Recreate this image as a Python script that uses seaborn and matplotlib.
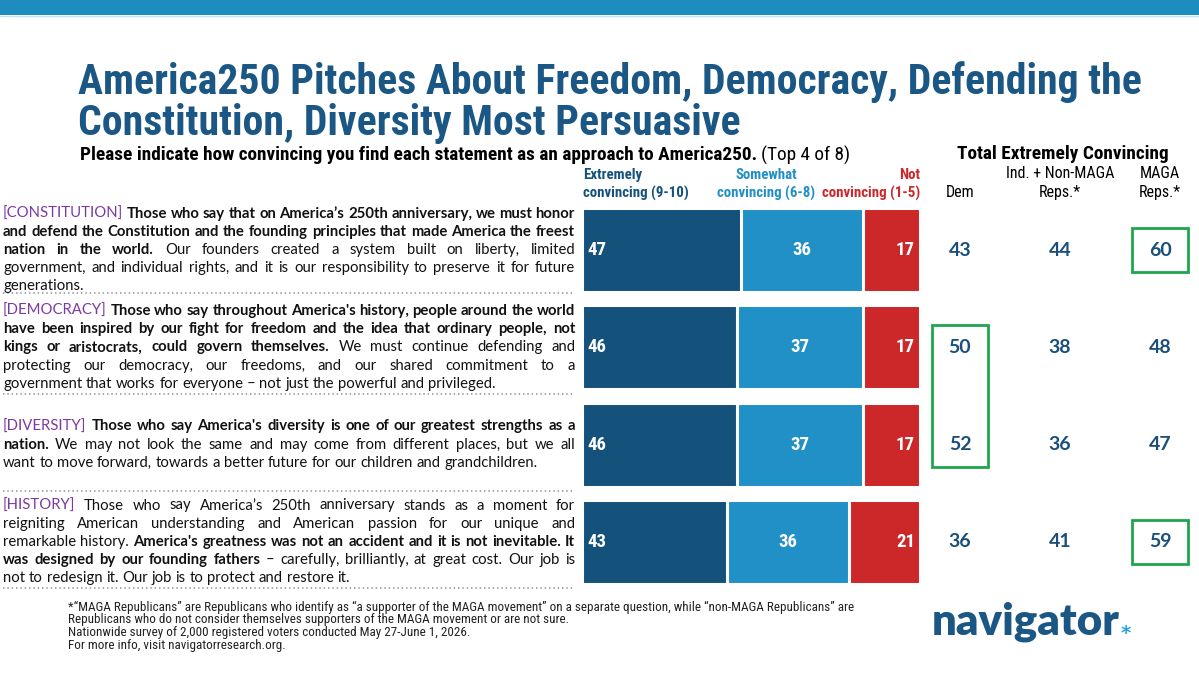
import numpy as np
import pandas as pd
import matplotlib
matplotlib.use("Agg")
import matplotlib.pyplot as plt
import seaborn as sns
from matplotlib import font_manager
from matplotlib.patches import Rectangle
from matplotlib.lines import Line2D
from matplotlib.transforms import blended_transform_factory

# ---------------- DATA ----------------
statements = ["CONSTITUTION", "DEMOCRACY", "DIVERSITY", "HISTORY"]
extremely = [47, 46, 46, 43]
somewhat = [36, 37, 37, 36]
not_conv = [17, 17, 17, 21]
legend_labels = ["Extremely\nconvincing (9-10)", "Somewhat\nconvincing (6-8)", "Not\nconvincing (1-5)"]
group_names = ["Dem", "Ind. + Non-MAGA\nReps.*", "MAGA\nReps.*"]
dem_vals = [43, 50, 52, 36]
ind_vals = [44, 38, 36, 41]
maga_vals = [60, 48, 47, 59]
# (group index, first row, last row)
highlights = [(2, 0, 0), (0, 1, 2), (2, 3, 3)]

title_lines = ["America250 Pitches About Freedom, Democracy, Defending the",
               "Constitution, Diversity Most Persuasive"]
subtitle_bold = "Please indicate how convincing you find each statement as an approach to America250."
subtitle_reg = "(Top 4 of 8)"
right_header = "Total Extremely Convincing"

paragraphs = [
    [[("p", "[CONSTITUTION]"), ("b", "Those who say that on America’s 250th anniversary, we must honor")],
     [("b", "and defend the Constitution and the founding principles that made America the freest")],
     [("b", "nation in the world."), ("r", "Our founders created a system built on liberty, limited")],
     [("r", "government, and individual rights, and it is our responsibility to preserve it for future")],
     [("r", "generations.")]],
    [[("p", "[DEMOCRACY]"), ("b", "Those who say throughout America's history, people around the world")],
     [("b", "have been inspired by our fight for freedom and the idea that ordinary people, not")],
     [("b", "kings or aristocrats, could govern themselves."), ("r", "We must continue defending and")],
     [("r", "protecting our democracy, our freedoms, and our shared commitment to a")],
     [("r", "government that works for everyone – not just the powerful and privileged.")]],
    [[("p", "[DIVERSITY]"), ("b", "Those who say America's diversity is one of our greatest strengths as a")],
     [("b", "nation."), ("r", "We may not look the same and may come from different places, but we all")],
     [("r", "want to move forward, towards a better future for our children and grandchildren.")]],
    [[("p", "[HISTORY]"), ("r", "Those who say America’s 250th anniversary stands as a moment for")],
     [("r", "reigniting American understanding and American passion for our unique and")],
     [("r", "remarkable history."), ("b", "America's greatness was not an accident and it is not inevitable. It")],
     [("b", "was designed by our founding fathers"), ("r", "– carefully, brilliantly, at great cost. Our job is")],
     [("r", "not to redesign it. Our job is to protect and restore it.")]],
]

footnote_lines = [
    "*“MAGA Republicans” are Republicans who identify as “a supporter of the MAGA movement” on a separate question, while “non-MAGA Republicans” are",
    "Republicans who do not consider themselves supporters of the MAGA movement or are not sure.",
    "Nationwide survey of 2,000 registered voters conducted May 27-June 1, 2026.",
    "For more info, visit navigatorresearch.org.",
]

# ---------------- STYLE ----------------
DARK = "#14527c"
LIGHT = "#2190c6"
RED = "#cc2729"
TITLE_C = "#1b5784"
NUM_C = "#1b4f7a"
PURPLE = "#7b3aa0"
GREEN = "#1fa64d"
BAND = "#1f8cbf"

sns.set_theme(style="white")
avail = {f.name for f in font_manager.fontManager.ttflist}


def pick(*names):
    for n in names:
        if n in avail:
            return n
    return "DejaVu Sans"


COND = pick("Roboto Condensed", "Liberation Sans Narrow", "Open Sans Condensed",
            "Noto Sans Condensed", "DejaVu Sans Condensed", "DejaVu Sans")
BODY = pick("Lato", "Open Sans", "DejaVu Sans")
LOGO = pick("Lato", "Inter", "DejaVu Sans")
plt.rcParams["font.family"] = [BODY, "DejaVu Sans"]

W, H = 1199, 674
fig = plt.figure(figsize=(W / 100, H / 100), dpi=100)
fig.patch.set_facecolor("white")
renderer = fig.canvas.get_renderer()


def fx(x):
    return x / W


def fy(y):
    return 1 - y / H


def width_of(t):
    return t.get_window_extent(renderer).width


def fit_text(x, y, s, target_w, base=10.0, max_size=None, **kw):
    t = fig.text(fx(x), fy(y), s, fontsize=base, **kw)
    w = width_of(t)
    size = base * target_w / w
    if max_size is not None:
        size = min(size, max_size)
    t.set_fontsize(size)
    return t


# top band
fig.add_artist(Rectangle((0, fy(15)), 1, 15 / H, transform=fig.transFigure,
                         facecolor=BAND, edgecolor="none"))
fig.add_artist(Line2D([0, 1], [fy(16), fy(16)], transform=fig.transFigure,
                      color="#bfe3f3", lw=1))

# title
t1 = fit_text(78, 82, title_lines[0], 1062, family=COND, weight="bold",
              color=TITLE_C, va="center", ha="left")
fig.text(fx(78), fy(124), title_lines[1], fontsize=t1.get_fontsize(), family=COND,
         weight="bold", color=TITLE_C, va="center", ha="left")

# subtitle
sb = fit_text(80, 155, subtitle_bold, 677, family=COND, weight="bold",
              color="black", va="center", ha="left")
fig.text(fx(80 + width_of(sb) + 4), fy(155), subtitle_reg, fontsize=sb.get_fontsize(),
         family=COND, color="black", va="center", ha="left")

# right header
fit_text(1063, 154, right_header, 211, family=COND, weight="bold", color="black",
         va="center", ha="center")

# ---------------- BARS ----------------
row_top, row_bottom = 201.4, 590.6
ax = fig.add_axes([fx(582), fy(row_bottom), 338 / W, (row_bottom - row_top) / H])
df = pd.DataFrame({"statement": statements, "ext": extremely, "som": somewhat, "not": not_conv})
df["c2"] = df["ext"] + df["som"]
df["c3"] = df["c2"] + df["not"]
for col, c in [("c3", RED), ("c2", LIGHT), ("ext", DARK)]:
    sns.barplot(data=df, x=col, y="statement", orient="h", color=c, saturation=1,
                width=0.865, edgecolor="white", linewidth=2.2, ax=ax)
ax.set_xlim(0, 100)
ax.set_ylim(3.5, -0.5)
ax.axis("off")

for i, r in df.iterrows():
    kw = dict(color="white", weight="bold", family=COND, fontsize=13.5, va="center")
    ax.text(1.5, i, f"{r['ext']}", ha="left", **kw)
    ax.text(r["ext"] + r["som"] / 2, i, f"{r['som']}", ha="center", **kw)
    ax.text(r["c3"] - 1.5, i, f"{r['not']}", ha="right", **kw)

# legend labels above bars
leg_size = 10.7
leg_specs = [(583, "left", DARK), (766, "center", LIGHT), (920, "right", RED)]
for (x, ha, c), lab in zip(leg_specs, legend_labels):
    l1, l2 = lab.split("\n")
    fig.text(fx(x), fy(175), l1, fontsize=leg_size, family=COND, weight="bold",
             color=c, ha=ha, va="center")
    fig.text(fx(x), fy(193), l2, fontsize=leg_size, family=COND, weight="bold",
             color=c, ha=ha, va="center")

# ---------------- RIGHT COLUMNS ----------------
ax2 = fig.add_axes([fx(910), fy(row_bottom), 300 / W, (row_bottom - row_top) / H])
ax2.set_xlim(-0.5, 2.5)
ax2.set_ylim(3.5, -0.5)
ax2.axis("off")
groups = [dem_vals, ind_vals, maga_vals]
for gi, vals in enumerate(groups):
    for ri, v in enumerate(vals):
        ax2.text(gi, ri, str(v), ha="center", va="center", color=NUM_C,
                 fontsize=14, weight="bold", family=BODY)
for gi, r0, r1 in highlights:
    ax2.add_patch(Rectangle((gi - 0.28, r0 - 0.23), 0.56, (r1 - r0) + 0.46,
                            fill=False, edgecolor=GREEN, linewidth=2))

# header size: fit the widest header line to its width in the reference
probe = fit_text(0, 0, "Ind. + Non-MAGA", 112, family=COND)
hdr_size = min(probe.get_fontsize(), 11.5)
probe.remove()
bt = blended_transform_factory(ax2.transData, fig.transFigure)
for gi, name in enumerate(group_names):
    lines = name.split("\n")
    for k, ln in enumerate(reversed(lines)):
        ax2.text(gi, fy(193 - 19 * k), ln, transform=bt, ha="center", va="center",
                 family=COND, fontsize=hdr_size, color="black")

# ---------------- LEFT TEXT (justified) ----------------
LEFT_X, RIGHT_X = 3, 575
TARGET = RIGHT_X - LEFT_X
style_kw = {
    "p": dict(color=PURPLE, weight="normal"),
    "b": dict(color="#111111", weight="bold"),
    "r": dict(color="#111111", weight="normal"),
}


def measure(s, size, style):
    t = fig.text(0, 0, s, fontsize=size, family=BODY, **style_kw[style])
    w = width_of(t)
    t.remove()
    return w


# choose font size so the densest justified line fits
base = 10.0
space_base = measure("x x", base, "r") - measure("xx", base, "r")
max_nat = 0
for para in paragraphs:
    for li, line in enumerate(para[:-1]):
        toks = [(s, w) for s, txt in line for w in txt.split()]
        nat = sum(measure(w, base, s) for s, w in toks) + space_base * (len(toks) - 1) * 0.9
        max_nat = max(max_nat, nat)
body_size = min(base * TARGET / max_nat, 11.3)
space_w = measure("x x", body_size, "r") - measure("xx", body_size, "r")

row_centers_px = [250, 347.3, 444.6, 541.9]
line_gap = 18.2
for para, yc in zip(paragraphs, row_centers_px):
    n = len(para)
    for li, line in enumerate(para):
        y = yc + (li - (n - 1) / 2) * line_gap
        toks = [(s, w) for s, txt in line for w in txt.split()]
        texts, widths = [], []
        for s, w in toks:
            t = fig.text(0, fy(y), w, fontsize=body_size, family=BODY,
                         va="center", ha="left", **style_kw[s])
            texts.append(t)
            widths.append(width_of(t))
        last = li == n - 1
        gap = space_w if last or len(toks) < 2 else (TARGET - sum(widths)) / (len(toks) - 1)
        x = LEFT_X
        for t, w in zip(texts, widths):
            t.set_x(fx(x))
            x += w + gap

for ysep in [293, 393.5, 491, 588]:
    fig.add_artist(Line2D([fx(LEFT_X), fx(RIGHT_X)], [fy(ysep), fy(ysep)],
                          transform=fig.transFigure, color="#a0a0a0", lw=1.3,
                          linestyle=(0, (0.8, 1.6))))

# ---------------- FOOTNOTE & LOGO ----------------
fn = fit_text(68, 607, footnote_lines[0], 782, family=COND, color="#222222",
              ha="left", va="center")
for k, ln in enumerate(footnote_lines[1:], start=1):
    fig.text(fx(68), fy(607 + 12.7 * k), ln, fontsize=fn.get_fontsize(), family=COND,
             color="#222222", ha="left", va="center")

logo = fit_text(932, 635, "navigator", 188, family=LOGO, weight="heavy", color=TITLE_C,
                ha="left", va="baseline")
fig.text(fx(1121), fy(634), "*", fontsize=logo.get_fontsize() * 0.45, family="DejaVu Sans",
         weight="bold", color="#2aa3dc", ha="left", va="center")

fig.savefig("out.png", dpi=100, facecolor="white")
